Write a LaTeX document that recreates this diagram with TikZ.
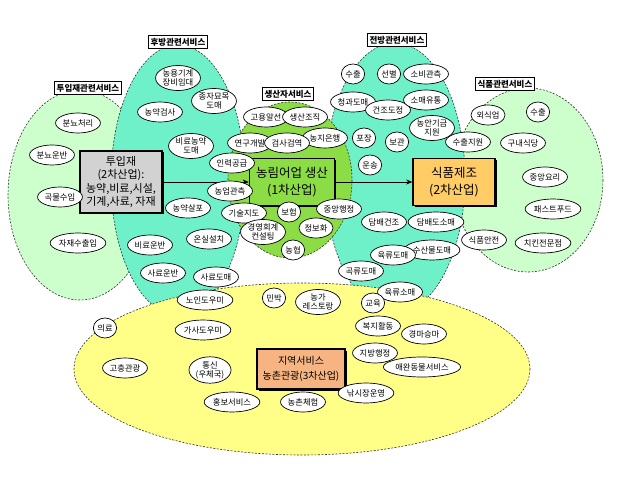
\documentclass[tikz,border=0pt]{standalone}
\usepackage{fontspec}
\setmainfont{Noto Sans CJK KR}
\usetikzlibrary{shapes.geometric,arrows.meta,shadows}
\definecolor{lgreen}{RGB}{204,255,204}
\definecolor{cyanz}{RGB}{110,240,200}
\definecolor{bgreen}{RGB}{140,220,70}
\definecolor{yelz}{RGB}{255,255,136}
\definecolor{gbox}{RGB}{210,210,210}
\definecolor{obox}{RGB}{255,204,102}
\definecolor{pbox}{RGB}{245,180,130}
\tikzset{
  zone/.style={draw=black!80, dash pattern=on 2pt off 1.5pt, line width=0.6pt},
  bub/.style={ellipse, draw, fill=white, line width=0.7pt, inner sep=0.6pt, minimum height=20pt,
    font=\fontsize{8.3}{9}\selectfont, align=center},
  lab/.style={rectangle, draw, fill=white, line width=1pt, inner sep=2pt,
    font=\fontsize{8.5}{9}\selectfont\bfseries},
  mbox/.style={rectangle, draw, line width=1.6pt, align=center,
    drop shadow={shadow xshift=1.5pt, shadow yshift=-1.5pt, fill=black, opacity=1}},
  conn/.style={-{Stealth[length=6pt,width=5pt]}, line width=0.6pt}
}
\begin{document}
\begin{tikzpicture}[x=1pt,y=-1pt]
\useasboundingbox (0,0) rectangle (619,500);
% zones
\draw[zone, fill=lgreen] (80,195) ellipse [x radius=72, y radius=105];
\draw[zone, fill=lgreen] (528,180) ellipse [x radius=75, y radius=92];
\draw[zone, fill=cyanz] (178,180) ellipse [x radius=67, y radius=135];
\draw[zone, fill=cyanz] (395,178) ellipse [x radius=70, y radius=135];
\draw[zone, fill=bgreen] (290,180) ellipse [x radius=62, y radius=78];
\draw[zone, fill=yelz] (302,369) ellipse [x radius=228, y radius=86];
% zone labels
\node[lab] (l1) at (88,88) {투입재관련서비스};
\node[lab] (l2) at (178,42) {후방관련서비스};
\node[lab] (l3) at (288,94) {생산자서비스};
\node[lab] (l4) at (397,40) {전방관련서비스};
\node[lab] (l5) at (505,84) {식품관련서비스};
% main boxes
\node[mbox, fill=gbox, minimum width=82pt, minimum height=62pt, font=\fontsize{11}{13.5}\selectfont] (tuip) at (121,182) {투입재\\(2차산업):\\농약,비료,시설,\\기계,사료, 자재};
\node[mbox, fill=bgreen, minimum width=85pt, minimum height=47pt, font=\fontsize{12.5}{17}\selectfont] (nong) at (292,182) {농림어업 생산\\(1차산업)};
\node[mbox, fill=obox, minimum width=82pt, minimum height=47pt, font=\fontsize{12.5}{17}\selectfont] (sikp) at (454,182) {식품제조\\(2차산업)};
\node[mbox, fill=pbox, minimum width=88pt, minimum height=40pt, font=\fontsize{10}{15}\selectfont] (jiyk) at (301,369) {지역서비스\\농촌관광(3차산업)};
\draw[conn] (tuip.east) -- (nong.west);
\draw[conn] (nong.east) -- (sikp.west);
% input services
\node[bub] (a1) at (78,123) {분뇨처리};
\node[bub] (a2) at (52,155) {분뇨운반};
\node[bub] (a3) at (60,197) {곡물수입};
\node[bub] (a4) at (78,243) {자재수출입};
% backward services
\node[bub] (b1) at (178,78) {농용기계\\장비임대};
\node[bub] (b2) at (214,101) {종자묘목\\도매};
\node[bub] (b3) at (160,112) {농약검사};
\node[bub] (b4) at (191,146) {비료농약\\도매};
\node[bub] (b5) at (232,163) {인력공급};
\node[bub] (b6) at (230,191) {농업관측};
\node[bub] (b7) at (188,208) {농약살포};
\node[bub] (b8) at (244,213) {기술지도};
\node[bub] (b9) at (150,245) {비료운반};
\node[bub] (b10) at (209,239) {온실설치};
\node[bub] (b11) at (163,273) {사료운반};
\node[bub] (b12) at (216,277) {사료도매};
% producer services
\node[bub] (c1) at (266,117) {고용알선};
\node[bub] (c2) at (305,117) {생산조직};
\node[bub] (c3) at (325,138) {농지은행};
\node[bub] (c4) at (250,143) {연구개발};
\node[bub] (c5) at (287,143) {검사검역};
\node[bub] (c6) at (289,212) {보험};
\node[bub] (c7) at (339,209) {중앙행정};
\node[bub] (c8) at (263,232) {경영회계\\컨설팅};
\node[bub] (c9) at (316,228) {정보화};
\node[bub] (c10) at (293,250) {농협};
% forward services
\node[bub] (d1) at (353,74) {수출};
\node[bub] (d2) at (389,74) {선별};
\node[bub] (d3) at (426,74) {소비관측};
\node[bub] (d4) at (353,102) {청과도매};
\node[bub] (d5) at (388,110) {건조도정};
\node[bub] (d6) at (426,100) {소매유통};
\node[bub] (d7) at (364,138) {포장};
\node[bub] (d8) at (397,142) {보관};
\node[bub] (d9) at (432,128) {농안기금\\지원};
\node[bub] (d10) at (468,142) {수출지원};
\node[bub] (d11) at (370,165) {운송};
\node[bub] (d12) at (384,222) {담배건조};
\node[bub] (d13) at (436,222) {담배도소매};
\node[bub] (d14) at (432,250) {수산물도매};
\node[bub] (d15) at (393,255) {육류도매};
\node[bub] (d16) at (361,271) {곡류도매};
\node[bub] (d17) at (400,292) {육류소매};
% food services
\node[bub] (e1) at (488,115) {외식업};
\node[bub] (e2) at (538,112) {수출};
\node[bub] (e3) at (523,143) {구내식당};
\node[bub] (e4) at (545,177) {중앙요리};
\node[bub] (e5) at (553,209) {패스트푸드};
\node[bub] (e6) at (484,240) {식품안전};
\node[bub] (e7) at (543,243) {치킨전문점};
% regional services
\node[bub] (f1) at (205,300) {노인도우미};
\node[bub] (f2) at (274,298) {민박};
\node[bub] (f3) at (318,302) {농가\\레스토랑};
\node[bub] (f4) at (373,303) {교육};
\node[bub] (f5) at (105,328) {의료};
\node[bub] (f6) at (203,330) {가사도우미};
\node[bub] (f7) at (378,326) {복지활동};
\node[bub] (f8) at (424,334) {경마승마};
\node[bub] (f9) at (125,368) {고충관광};
\node[bub] (f10) at (210,370) {통신\\(우체국)};
\node[bub] (f11) at (375,353) {지방행정};
\node[bub] (f12) at (422,367) {애완동물서비스};
\node[bub] (f13) at (232,402) {홍보서비스};
\node[bub] (f14) at (303,402) {농촌체험};
\node[bub] (f15) at (366,393) {낚시장운영};
\end{tikzpicture}
\end{document}
